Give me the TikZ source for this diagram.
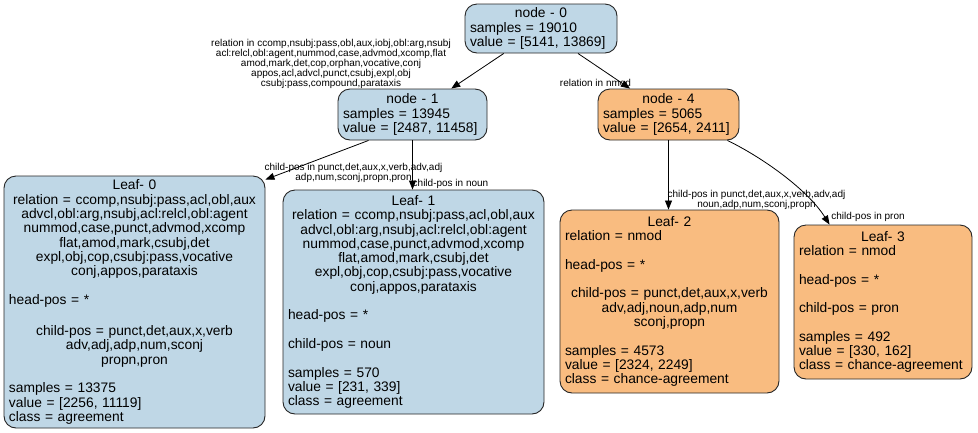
\documentclass[tikz,border=0pt]{standalone}
\usepackage{fontspec}
\setmainfont{Liberation Sans}
\usetikzlibrary{arrows.meta}
\definecolor{splitblue}{RGB}{191,215,230}
\definecolor{splitorange}{RGB}{249,188,128}
\newcommand{\boxfont}{\fontsize{13.8}{14.3}\selectfont}
\newcommand{\edgefont}{\fontsize{10}{9.8}\selectfont}
\newcommand{\blankline}{\vspace{14.3pt}}
\newcommand{\ctrblock}[1]{{\centering #1\par}}
\setlength{\parindent}{0pt}

\begin{document}
\begin{tikzpicture}[x=1pt, y=-1pt,
  tree/.style={draw=black!85, line width=0.9pt, rounded corners=12pt,
               font=\boxfont, align=left, inner xsep=5pt, inner ysep=0pt},
  agree/.style={tree, fill=splitblue},
  chance/.style={tree, fill=splitorange},
  edge/.style={-{Triangle[length=9pt,width=7pt]}, line width=0.8pt},
  elabel/.style={font=\edgefont, align=center, inner sep=0pt}
]
\useasboundingbox (0,0) rectangle (978,432);

%% split nodes
\node[agree, minimum width=152pt, minimum height=49pt, text width=142pt] (n0) at (541,28.5) {%
  \centerline{node - 0}
  samples = 19010\\
  value = [5141, 13869]};
\node[agree, minimum width=149pt, minimum height=51pt, text width=139pt] (n1) at (412.5,114.5) {%
  \centerline{node - 1}
  samples = 13945\\
  value = [2487, 11458]};
\node[chance, minimum width=141pt, minimum height=51pt, text width=131pt] (n4) at (668.5,114.5) {%
  \centerline{node - 4}
  samples = 5065\\
  value = [2654, 2411]};

%% leaves
\node[agree, minimum width=261pt, minimum height=252pt, text width=251pt] (leaf0) at (134.5,302) {%
  \centerline{Leaf- 0}
  \ctrblock{relation = ccomp,nsubj:pass,acl,obl,aux\\
    advcl,obl:arg,nsubj,acl:relcl,obl:agent\\
    nummod,case,punct,advmod,xcomp\\
    flat,amod,mark,csubj,det\\
    expl,obj,cop,csubj:pass,vocative\\
    conj,appos,parataxis}
  \blankline
  head-pos = *\par
  \vspace{17pt}
  \ctrblock{child-pos = punct,det,aux,x,verb\\
    adv,adj,adp,num,sconj\\
    propn,pron}
  \blankline
  samples = 13375\\
  value = [2256, 11119]\\
  class = agreement};
\node[agree, minimum width=261pt, minimum height=224pt, text width=251pt] (leaf1) at (413.5,302) {%
  \centerline{Leaf- 1}
  \ctrblock{relation = ccomp,nsubj:pass,acl,obl,aux\\
    advcl,obl:arg,nsubj,acl:relcl,obl:agent\\
    nummod,case,punct,advmod,xcomp\\
    flat,amod,mark,csubj,det\\
    expl,obj,cop,csubj:pass,vocative\\
    conj,appos,parataxis}
  \blankline
  head-pos = *\par
  \blankline
  child-pos = noun\par
  \blankline
  samples = 570\\
  value = [231, 339]\\
  class = agreement};
\node[chance, minimum width=219pt, minimum height=183pt, text width=209pt] (leaf2) at (669.5,301.5) {%
  \centerline{Leaf- 2}
  relation = nmod\par
  \blankline
  head-pos = *\par
  \blankline
  \ctrblock{child-pos = punct,det,aux,x,verb\\
    adv,adj,noun,adp,num\\
    sconj,propn}
  \blankline
  samples = 4573\\
  value = [2324, 2249]\\
  class = chance-agreement};
\node[chance, minimum width=178pt, minimum height=154pt, text width=168pt] (leaf3) at (883,302) {%
  \centerline{Leaf- 3}
  relation = nmod\par
  \blankline
  head-pos = *\par
  \blankline
  child-pos = pron\par
  \blankline
  samples = 492\\
  value = [330, 162]\\
  class = chance-agreement};

%% edge labels
\node[elabel] (lab1) at (331,64) {relation in ccomp,nsubj:pass,obl,aux,iobj,obl:arg,nsubj\\
  acl:relcl,obl:agent,nummod,case,advmod,xcomp,flat\\
  amod,mark,det,cop,orphan,vocative,conj\\
  appos,acl,advcl,punct,csubj,expl,obj\\
  csubj:pass,compound,parataxis};
\node[elabel] (lab4) at (595.5,83) {relation in nmod};
\node[elabel] (labl0) at (353.5,173) {child-pos in punct,det,aux,x,verb,adv,adj\\
  adp,num,sconj,propn,pron};
\node[elabel] (labl1) at (450.5,184) {child-pos in noun};
\node[elabel] (labl2) at (756.5,200) {child-pos in punct,det,aux,x,verb,adv,adj\\
  noun,adp,num,sconj,propn};
\node[elabel] (labl3) at (868,217) {child-pos in pron};

%% edges
\draw[edge] (n0) -- (n1);
\draw[edge] (n0) -- (n4);
\draw[edge] ([xshift=-44pt]n1.south) -- ([yshift=-4pt]leaf0.north east);
\draw[edge] (n1.south) -- (n1.south |- leaf1.north);
\draw[edge] (n4.south) -- (n4.south |- leaf2.north);
\draw[edge] ([xshift=-12pt]n4.south east) .. controls +(35,17) and +(-22,-35) .. ([xshift=36pt]leaf3.north west);

\end{tikzpicture}
\end{document}
